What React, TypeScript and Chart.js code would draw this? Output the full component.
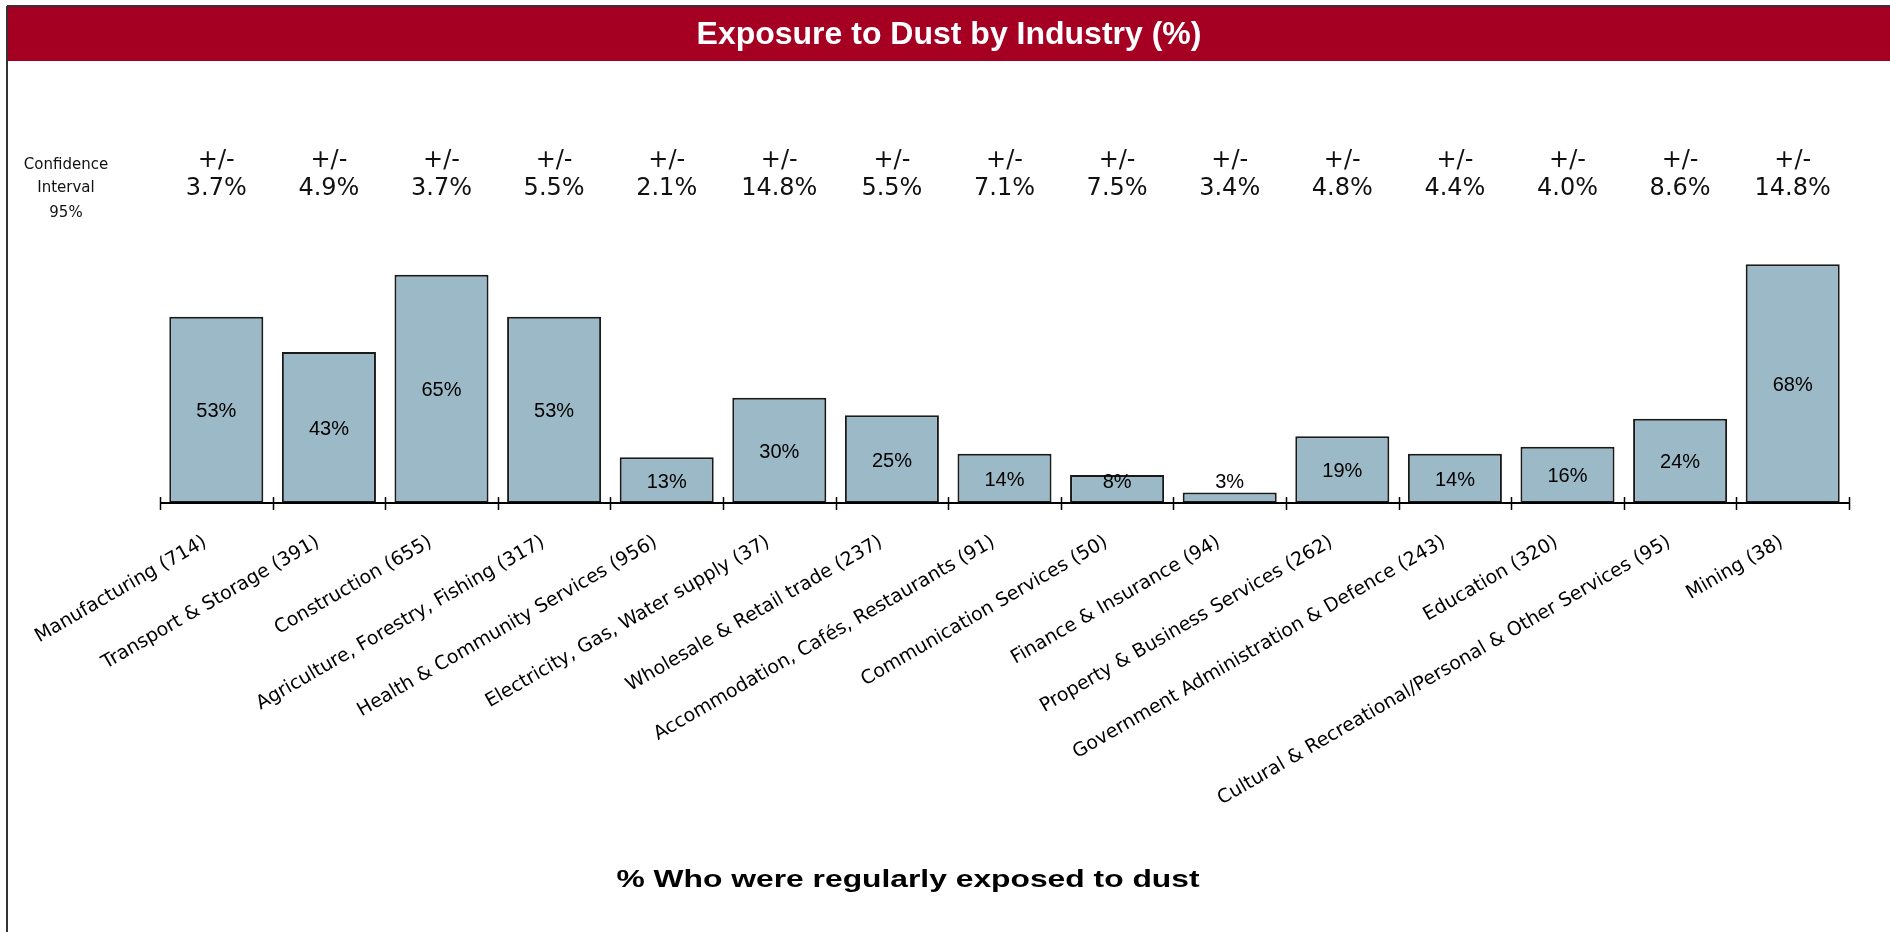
import React, { useEffect, useRef } from 'react';
import { Chart, registerables } from 'chart.js';

Chart.register(...registerables);

const categories = [
  'Manufacturing (714)',
  'Transport & Storage (391)',
  'Construction (655)',
  'Agriculture, Forestry, Fishing (317)',
  'Health & Community Services (956)',
  'Electricity, Gas, Water supply (37)',
  'Wholesale & Retail trade (237)',
  'Accommodation, Cafés, Restaurants (91)',
  'Communication Services (50)',
  'Finance & Insurance (94)',
  'Property & Business Services (262)',
  'Government Administration & Defence (243)',
  'Education (320)',
  'Cultural & Recreational/Personal & Other Services (95)',
  'Mining (38)',
];

const exposure = [53, 43, 65, 53, 13, 30, 25, 14, 8, 3, 19, 14, 16, 24, 68];

const confidence = ['3.7%', '4.9%', '3.7%', '5.5%', '2.1%', '14.8%', '5.5%', '7.1%', '7.5%', '3.4%', '4.8%', '4.4%', '4.0%', '8.6%', '14.8%'];

const chartTitle = 'Exposure to Dust by Industry (%)';
const xAxisTitle = '% Who were regularly exposed to dust';
const ciPrefix = '+/-';
const ciLabel = ['Confidence', 'Interval', '95%'];

const W = 1890;
const H = 932;

const decorPlugin = {
  id: 'decor',
  beforeDraw(chart: any) {
    const ctx = chart.ctx;
    ctx.save();
    ctx.fillStyle = '#ffffff';
    ctx.fillRect(0, 0, W, H);
    // title bar
    ctx.fillStyle = '#A50021';
    ctx.fillRect(8, 7, W - 8, 54);
    // frame
    ctx.strokeStyle = '#333333';
    ctx.lineWidth = 2;
    ctx.beginPath();
    ctx.moveTo(7, 6);
    ctx.lineTo(W, 6);
    ctx.moveTo(7, 6);
    ctx.lineTo(7, H);
    ctx.stroke();
    // title
    ctx.fillStyle = '#ffffff';
    ctx.font = 'bold 32px "Liberation Sans", Arial, sans-serif';
    ctx.textAlign = 'center';
    ctx.textBaseline = 'middle';
    ctx.fillText(chartTitle, 949, 35);
    ctx.restore();
  },
  afterDraw(chart: any) {
    const ctx = chart.ctx;
    const area = chart.chartArea;
    const xScale = chart.scales.x;
    const meta = chart.getDatasetMeta(0);
    const n = categories.length;
    const step = (area.right - area.left) / n;
    ctx.save();
    // axis line and tick marks
    ctx.strokeStyle = '#000000';
    ctx.lineWidth = 2;
    ctx.beginPath();
    ctx.moveTo(area.left, area.bottom);
    ctx.lineTo(area.right, area.bottom);
    ctx.stroke();
    ctx.lineWidth = 1.5;
    ctx.beginPath();
    for (let i = 0; i <= n; i++) {
      const x = Math.round(xScale.getPixelForValue(i) - step / 2) + 0.5;
      ctx.moveTo(x, area.bottom - 6);
      ctx.lineTo(x, area.bottom + 7);
    }
    ctx.stroke();

    // data labels
    ctx.fillStyle = '#000000';
    ctx.font = '20px "Liberation Sans", Arial, sans-serif';
    ctx.textAlign = 'center';
    ctx.textBaseline = 'middle';
    meta.data.forEach((bar: any, i: number) => {
      const mid = (bar.y + bar.base) / 2 + 2;
      const y = Math.min(mid, bar.base - 21);
      ctx.fillText(exposure[i] + '%', bar.x, y);
    });

    // confidence intervals
    ctx.fillStyle = '#111111';
    ctx.font = '24px "DejaVu Sans", Verdana, sans-serif';
    meta.data.forEach((bar: any, i: number) => {
      ctx.fillText(ciPrefix, bar.x, 161);
      ctx.fillText(confidence[i], bar.x, 189);
    });

    // left label
    ctx.font = '15px "DejaVu Sans", Verdana, sans-serif';
    ctx.fillText(ciLabel[0], 66, 165);
    ctx.fillText(ciLabel[1], 66, 188);
    ctx.fillText(ciLabel[2], 66, 213);

    // x axis title (horizontally stretched as in the reference)
    ctx.fillStyle = '#000000';
    ctx.font = 'bold 24px "Liberation Sans", Arial, sans-serif';
    ctx.textBaseline = 'alphabetic';
    const tw = ctx.measureText(xAxisTitle).width;
    const sx = 583 / tw;
    ctx.translate(908, 887);
    ctx.scale(sx, 1);
    ctx.fillText(xAxisTitle, 0, 0);
    ctx.restore();
  },
};

export default function App() {
  const canvasRef = useRef<HTMLCanvasElement | null>(null);

  useEffect(() => {
    document.body.style.margin = '0';
    const canvas = canvasRef.current;
    if (!canvas) return;
    const chart = new Chart(canvas, {
      type: 'bar',
      data: {
        labels: categories,
        datasets: [
          {
            data: exposure,
            backgroundColor: '#9BB9C6',
            borderColor: '#1a1a1a',
            borderWidth: 2,
            borderSkipped: false,
            barPercentage: 0.835,
            categoryPercentage: 1.0,
          },
        ],
      },
      options: {
        responsive: false,
        maintainAspectRatio: false,
        animation: false,
        devicePixelRatio: 1,
        layout: { padding: { left: 160, right: 41, top: 222, bottom: 0 } },
        plugins: {
          legend: { display: false },
          title: { display: false },
          tooltip: { enabled: false },
        },
        scales: {
          y: { display: false, min: 0, max: 80 },
          x: {
            grid: { display: false },
            border: { display: false },
            ticks: {
              autoSkip: false,
              minRotation: 30,
              maxRotation: 30,
              padding: 20,
              labelOffset: -11,
              color: '#000000',
              font: { family: '"DejaVu Sans", Verdana, sans-serif', size: 19 },
            },
            afterFit: (scale: any) => {
              scale.height = H - 503;
            },
          },
        },
      },
      plugins: [decorPlugin],
    });
    return () => chart.destroy();
  }, []);

  return (
    <div style={{ position: 'absolute', left: 0, top: 0, width: W, height: H }}>
      <canvas ref={canvasRef} width={W} height={H} style={{ display: 'block' }} />
    </div>
  );
}
